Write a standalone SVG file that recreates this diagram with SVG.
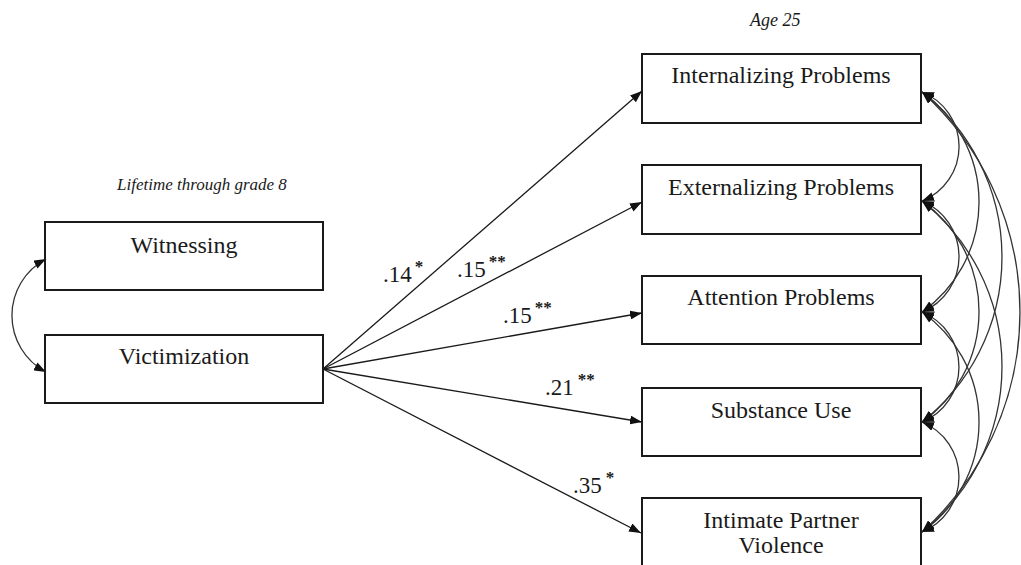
<svg xmlns="http://www.w3.org/2000/svg" width="1021" height="565" viewBox="0 0 1021 565">
  <style>
    .box { fill: #fff; stroke: #1a1a1a; stroke-width: 2; }
    .lbl { font-family: "Liberation Serif", "Times New Roman", serif; font-size: 24px; fill: #1a1a1a; text-anchor: middle; }
    .coef { font-family: "Liberation Serif", "Times New Roman", serif; font-size: 23px; fill: #1a1a1a; }
    .sup { font-size: 17px; font-weight: bold; }
    .head { font-family: "Liberation Serif", "Times New Roman", serif; font-style: italic; font-size: 17px; fill: #1a1a1a; }
    .path { fill: none; stroke: #1a1a1a; stroke-width: 1.3; marker-end: url(#arrow); }
    .cov { fill: none; stroke: #333; stroke-width: 1.3; marker-start: url(#arrow); marker-end: url(#arrow); }
  </style>
  <defs>
    <marker id="arrow" viewBox="0 0 12 9" refX="12" refY="4.5" markerWidth="12" markerHeight="9" markerUnits="userSpaceOnUse" orient="auto-start-reverse">
      <path d="M0,0 L12,4.5 L0,9 z" fill="#111"/>
    </marker>
  </defs>

  <rect width="1021" height="565" fill="#fff"/>

  <!-- column headings -->
  <text class="head" x="117" y="190">Lifetime through grade 8</text>
  <text class="head" x="750" y="26" style="font-size:18px">Age 25</text>

  <!-- predictors -->
  <g id="witnessing">
    <rect class="box" x="45" y="222" width="278" height="68"/>
    <text class="lbl" x="184" y="253">Witnessing</text>
  </g>
  <g id="victimization">
    <rect class="box" x="45" y="335" width="278" height="68"/>
    <text class="lbl" x="184" y="364">Victimization</text>
  </g>

  <!-- outcomes -->
  <g id="internalizing">
    <rect class="box" x="642" y="54" width="279" height="69"/>
    <text class="lbl" x="781" y="83">Internalizing Problems</text>
  </g>
  <g id="externalizing">
    <rect class="box" x="642" y="165" width="279" height="69"/>
    <text class="lbl" x="781" y="195">Externalizing Problems</text>
  </g>
  <g id="attention">
    <rect class="box" x="642" y="276" width="279" height="68"/>
    <text class="lbl" x="781" y="305">Attention Problems</text>
  </g>
  <g id="substance">
    <rect class="box" x="642" y="388" width="279" height="68"/>
    <text class="lbl" x="781" y="418">Substance Use</text>
  </g>
  <g id="ipv">
    <rect class="box" x="642" y="498" width="279" height="80"/>
    <text class="lbl" x="781" y="528">Intimate Partner</text>
    <text class="lbl" x="781" y="553">Violence</text>
  </g>

  <!-- connectors -->
  <g id="connectors">
    <!-- predictor covariance -->
    <path class="cov" d="M46,259 A63.9,63.9 0 0 0 46,372"/>

    <!-- regression paths from victimization -->
    <path class="path" d="M323,369 L642,91"/>
    <path class="path" d="M323,369 L642,202"/>
    <path class="path" d="M323,369 L642,313"/>
    <path class="path" d="M323,369 L642,422"/>
    <path class="path" d="M323,369 L641,533"/>

    <!-- residual covariances among outcomes -->
    <path class="cov" d="M922,92 A58.6,58.6 0 0 1 922,201"/>
    <path class="cov" d="M922,201 A60.1,60.1 0 0 1 922,312"/>
    <path class="cov" d="M922,312 A59.4,59.4 0 0 1 922,422"/>
    <path class="cov" d="M922,422 A59.4,59.4 0 0 1 922,532"/>
    <path class="cov" d="M922,92 A134.6,134.6 0 0 1 922,312"/>
    <path class="cov" d="M922,201 A135.6,135.6 0 0 1 922,422"/>
    <path class="cov" d="M922,312 A134.6,134.6 0 0 1 922,532"/>
    <path class="cov" d="M922,92 A210.2,210.2 0 0 1 922,422"/>
    <path class="cov" d="M922,201 A211.2,211.2 0 0 1 922,532"/>
    <path class="cov" d="M922,92 A296,296 0 0 1 922,532"/>
  </g>

  <!-- path coefficients -->
  <text class="coef" x="383" y="282">.14<tspan class="sup" dx="3" dy="-10">*</tspan></text>
  <text class="coef" x="457" y="277">.15<tspan class="sup" dx="3" dy="-10">**</tspan></text>
  <text class="coef" x="503" y="323">.15<tspan class="sup" dx="3" dy="-10">**</tspan></text>
  <text class="coef" x="545" y="395">.21<tspan class="sup" dx="4" dy="-10">**</tspan></text>
  <text class="coef" x="573" y="493">.35<tspan class="sup" dx="4" dy="-10">*</tspan></text>
</svg>
